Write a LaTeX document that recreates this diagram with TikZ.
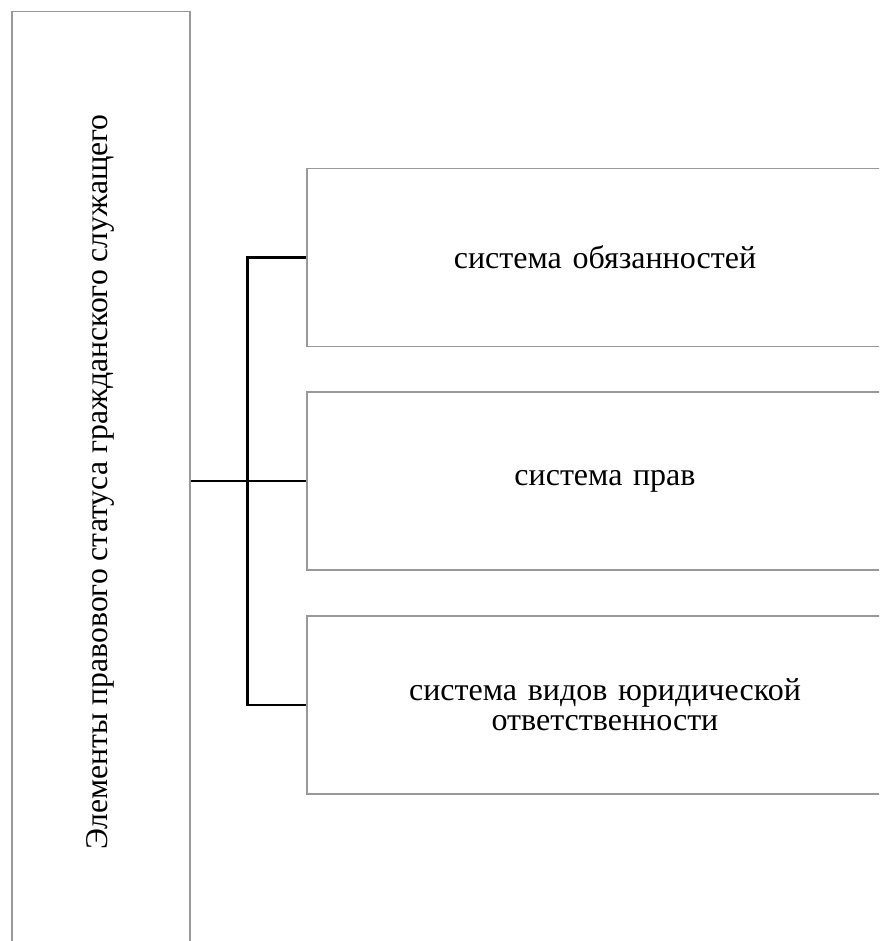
\documentclass[tikz,border=0pt]{standalone}
\usepackage{fontspec}
\setmainfont{Liberation Serif}
\usetikzlibrary{positioning}

\tikzset{
  box/.style={draw=black!40, line width=1.5pt, fill=white, inner sep=0pt},
  item/.style={box, minimum width=596pt, minimum height=178pt,
    align=center, text width=520pt, font=\fontsize{32}{30}\selectfont},
  link/.style={draw=black, line width=2.2pt}
}

\begin{document}
\begin{tikzpicture}[x=1pt, y=-1pt]
  \useasboundingbox (0,0) rectangle (879,941);
  \begin{scope}
  \clip (0,0) rectangle (879,941);

  % left column
  \node[box, minimum width=178pt, minimum height=960pt, anchor=north west] (elem) at (11,11) {};
  \node[rotate=90, font=\fontsize{31.7}{38}\selectfont] (elemtext) at (100,482)
    {Элементы правового статуса гражданского служащего};

  % right boxes
  \node[item] (sys1) at (605,257.5) {система обязанностей};
  \node[item] (sys2) at (605,481) {система прав};
  \node[item] (sys3) at (605,705) {система видов юридической\\ответственности};

  % connectors
  \coordinate (fork) at (247.5,481);
  \draw[link] (elem.east |- sys2.west) -- (sys2.west);
  \draw[link] (sys1.west) -| (fork) |- (sys3.west);
  \end{scope}
\end{tikzpicture}
\end{document}
